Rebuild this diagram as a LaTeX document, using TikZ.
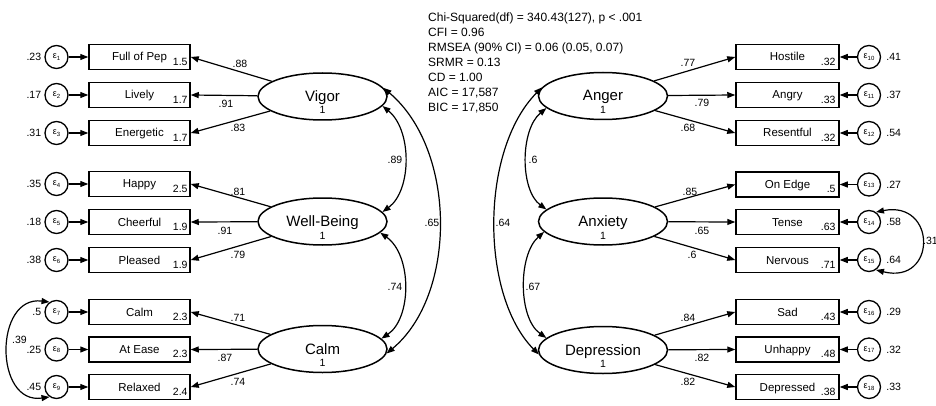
\documentclass[tikz,border=0pt]{standalone}
\usepackage{fontspec}
\setmainfont{Liberation Sans}
\usetikzlibrary{shapes.geometric,arrows.meta,calc}
\newcommand{\errtxt}[1]{{\fontsize{9}{9}\selectfont ε\raisebox{-1.5pt}{\fontsize{6}{6}\selectfont #1}}}
\tikzset{
 obs/.style={draw, line width=1.5pt, minimum width=101pt, minimum height=25pt, inner sep=0pt, text height=10pt, text depth=2pt, font=\fontsize{11.5}{12}\selectfont},
 latent/.style={draw, ellipse, line width=1.5pt, minimum width=129pt, minimum height=47pt, inner sep=0pt},
 errc/.style={draw, circle, line width=1.3pt, minimum size=23pt, inner sep=0pt},
 num/.style={font=\fontsize{10.5}{11}\selectfont, inner sep=0pt},
 lname/.style={font=\fontsize{15}{16}\selectfont, inner sep=0pt, anchor=base},
 arr/.style={line width=1.2pt, -{Triangle[length=8pt,width=6pt]}},
 cov/.style={line width=1.2pt, {Triangle[length=8pt,width=6pt]}-{Triangle[length=8pt,width=6pt]}},
 stat/.style={font=\fontsize{12}{15}\selectfont, inner sep=0pt, anchor=base west},
}
\begin{document}
\begin{tikzpicture}[x=1pt,y=-1pt]
\useasboundingbox (0,0) rectangle (936,406);
% latent variables
\node[latent] (vig) at (322.5,96.5) {};
\node[lname] (vign) at (322.5,101.5) {Vigor};
\node[num,anchor=base] (vig1) at (322.5,114) {1};
\node[latent] (wb) at (322.5,221.5) {};
\node[lname] (wbn) at (322.5,226.5) {Well-Being};
\node[num,anchor=base] (wb1) at (322.5,239) {1};
\node[latent] (calm) at (322.5,349) {};
\node[lname] (calmn) at (322.5,354) {Calm};
\node[num,anchor=base] (calm1) at (322.5,366.5) {1};
\node[latent] (ang) at (603,96) {};
\node[lname] (angn) at (603,101) {Anger};
\node[num,anchor=base] (ang1) at (603,113.5) {1};
\node[latent] (anx) at (603,221.5) {};
\node[lname] (anxn) at (603,226.5) {Anxiety};
\node[num,anchor=base] (anx1) at (603,239) {1};
\node[latent] (dep) at (603,350) {};
\node[lname] (depn) at (603,355) {Depression};
\node[num,anchor=base] (dep1) at (603,367.5) {1};
% left indicators
\foreach \i/\y/\t/\v/\e/\lat/\lx/\ly/\l in {
1/57/Full of Pep/1.5/.23/vig/240/64/.88,
2/95/Lively/1.7/.17/vig/226/104/.91,
3/133/Energetic/1.7/.31/vig/238/128/.83,
4/184/Happy/2.5/.35/wb/238/192/.81,
5/222/Cheerful/1.9/.18/wb/225/231/.91,
6/260/Pleased/1.9/.38/wb/238/255/.79,
7/312/Calm/2.3/.5/calm/238/318/.71,
8/349.5/At Ease/2.3/.25/calm/225/358/.87,
9/387/Relaxed/2.4/.45/calm/238/382/.74}
{
 \node[obs] (b\i) at (139.5,\y) {\t};
 \node[num, anchor=base east] (bv\i) at ($(b\i.south east)+(-3,-5)$) {\v};
 \node[errc] (e\i) at (56.5,\y) {\errtxt{\i}};
 \node[num, anchor=east] (ev\i) at ($(e\i.west)+(-3,0)$) {\e};
 \draw[arr] (e\i) -- (b\i);
 \draw[arr] (\lat) -- (b\i.east);
 \node[num] (ld\i) at (\lx,\ly) {\l};
}
% right indicators
\foreach \i/\y/\t/\v/\e/\lat/\lx/\ly/\l in {
10/57/Hostile/.32/.41/ang/688/63/.77,
11/95/Angry/.33/.37/ang/702/103/.79,
12/133/Resentful/.32/.54/ang/688/128/.68,
13/184.5/On Edge/.5/.27/anx/690/192/.85,
14/222/Tense/.63/.58/anx/702/231/.65,
15/260/Nervous/.71/.64/anx/692/255/.6,
16/312/Sad/.43/.29/dep/688/318/.84,
17/349.5/Unhappy/.48/.32/dep/702/358/.82,
18/387/Depressed/.38/.33/dep/688/382/.82}
{
 \node[obs, minimum width=103pt] (b\i) at (787.5,\y) {\t};
 \node[num, anchor=base east] (bv\i) at ($(b\i.south east)+(-4,-5)$) {\v};
 \node[errc] (e\i) at (869,\y) {\errtxt{\i}};
 \node[num, anchor=west] (ev\i) at ($(e\i.east)+(5,0)$) {\e};
 \draw[arr] (e\i) -- (b\i);
 \draw[arr] (\lat) -- (b\i.west);
 \node[num] (ld\i) at (\lx,\ly) {\l};
}
% covariances left
\draw[cov] (vig.-9) .. controls (412,130) and (412,190) .. (wb.9);
\node[num] (c1) at (395,160) {.89};
\draw[cov] (vig.8) .. controls (457,150) and (457,295) .. (calm.-4);
\node[num] (c2) at (432,223) {.65};
\draw[cov] (wb.-11) .. controls (412,255) and (412,318) .. (calm.10);
\node[num] (c3) at (395,287) {.74};
% covariances right
\draw[cov] (ang.192) .. controls (520,130) and (520,190) .. (anx.168);
\node[num] (c4) at (533,160) {.6};
\draw[cov] (ang.172) .. controls (480,150) and (480,295) .. (dep.184);
\node[num] (c5) at (503,223) {.64};
\draw[cov] (anx.190) .. controls (518,255) and (518,318) .. (dep.168);
\node[num] (c6) at (533,287) {.67};
% error covariances
\draw[cov] (e7.125) .. controls (-6,295) and (-6,405) .. (e9.235);
\node[num] (c7) at (19.5,340) {.39};
\draw[cov] (e14.55) .. controls (937,200) and (937,285) .. (e15.-55);
\node[num, anchor=west] (c8) at (923,241) {.31};
% fit statistics
\node[stat] (s1) at (428,21.3) {Chi-Squared(df) = 340.43(127), p < .001};
\node[stat] (s2) at (428,36.3) {CFI = 0.96};
\node[stat] (s3) at (428,51.3) {RMSEA (90\% CI) = 0.06 (0.05, 0.07)};
\node[stat] (s4) at (428,66.3) {SRMR = 0.13};
\node[stat] (s5) at (428,81.3) {CD = 1.00};
\node[stat] (s6) at (428,96.3) {AIC = 17,587};
\node[stat] (s7) at (428,111.3) {BIC = 17,850};
\end{tikzpicture}
\end{document}
